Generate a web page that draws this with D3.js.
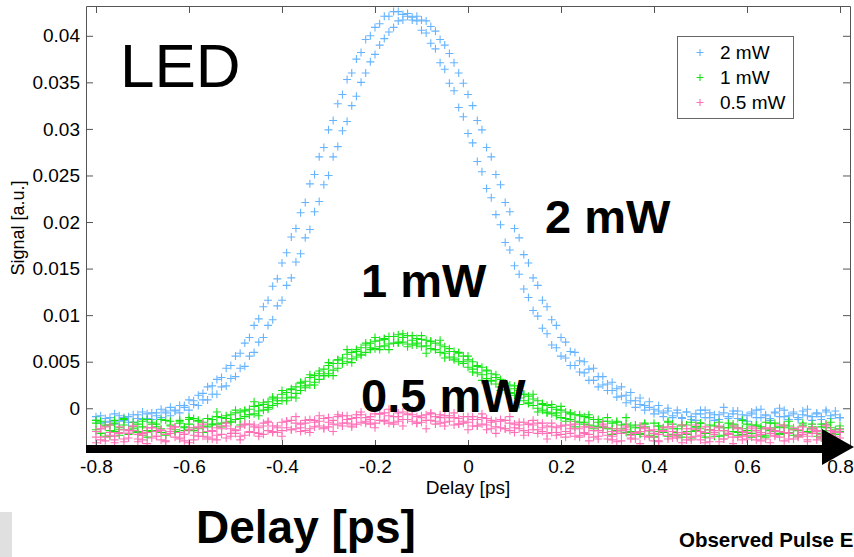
<!DOCTYPE html>
<html><head><meta charset="utf-8">
<script src="https://cdn.jsdelivr.net/npm/d3@7"></script>
<style>
body{margin:0;background:#fff;overflow:hidden;}
svg{display:block;}
</style>
</head><body>
<svg id="chart" width="854" height="557"></svg>
<script>
// ---------- data ----------
const delay = [
-0.8,-0.79,-0.78,-0.77,-0.76,-0.75,-0.74,-0.73,-0.72,-0.71,
-0.7,-0.69,-0.68,-0.67,-0.66,-0.65,-0.64,-0.63,-0.62,-0.61,
-0.6,-0.59,-0.58,-0.57,-0.56,-0.55,-0.54,-0.53,-0.52,-0.51,
-0.5,-0.49,-0.48,-0.47,-0.46,-0.45,-0.44,-0.43,-0.42,-0.41,
-0.4,-0.39,-0.38,-0.37,-0.36,-0.35,-0.34,-0.33,-0.32,-0.31,
-0.3,-0.29,-0.28,-0.27,-0.26,-0.25,-0.24,-0.23,-0.22,-0.21,
-0.2,-0.19,-0.18,-0.17,-0.16,-0.15,-0.14,-0.13,-0.12,-0.11,
-0.1,-0.09,-0.08,-0.07,-0.06,-0.05,-0.04,-0.03,-0.02,-0.01,
0,0.01,0.02,0.03,0.04,0.05,0.06,0.07,0.08,0.09,
0.1,0.11,0.12,0.13,0.14,0.15,0.16,0.17,0.18,0.19,
0.2,0.21,0.22,0.23,0.24,0.25,0.26,0.27,0.28,0.29,
0.3,0.31,0.32,0.33,0.34,0.35,0.36,0.37,0.38,0.39,
0.4,0.41,0.42,0.43,0.44,0.45,0.46,0.47,0.48,0.49,
0.5,0.51,0.52,0.53,0.54,0.55,0.56,0.57,0.58,0.59,
0.6,0.61,0.62,0.63,0.64,0.65,0.66,0.67,0.68,0.69,
0.7,0.71,0.72,0.73,0.74,0.75,0.76,0.77,0.78,0.79,
0.8];

const signal2mW_sweep1 = [
-.0009,-.0016,-.0011,-.0014,-.0006,-.0014,-.0010,-.0015,-.0007,-.0011,
-.0004,-.0011,-.0005,-.0008,-.0001,-.0005,.0001,-.0003,.0003,.0003,
.0009,.0008,.0014,.0016,.0023,.0024,.0031,.0033,.0043,.0046,
.0056,.0059,.0070,.0076,.0089,.0096,.0109,.0116,.0131,.0139,
.0156,.0167,.0184,.0193,.0210,.0221,.0241,.0251,.0270,.0280,
.0299,.0309,.0327,.0337,.0353,.0360,.0375,.0382,.0396,.0400,
.0409,.0413,.0421,.0421,.0426,.0426,.0423,.0424,.0417,.0416,
.0406,.0403,.0392,.0386,.0371,.0364,.0349,.0341,.0323,.0313,
.0295,.0285,.0265,.0254,.0236,.0226,.0208,.0197,.0178,.0170,
.0153,.0144,.0128,.0119,.0105,.0099,.0086,.0080,.0068,.0065,
.0056,.0054,.0046,.0046,.0039,.0038,.0030,.0030,.0023,.0025,
.0019,.0019,.0012,.0013,.0006,.0008,.0001,.0004,-.0002,.0001,
-.0006,-.0003,-.0009,-.0003,-.0010,-.0005,-.0011,-.0004,-.0009,-.0013,
-.0006,-.0002,-.0010,-.0007,-.0012,-.0005,-.0009,-.0003,-.0011,-.0007,
-.0014,-.0006,-.0002,-.0010,-.0008,-.0013,-.0004,.0000,-.0009,-.0012,
-.0006,-.0010,-.0003,-.0008,-.0013,-.0005,-.0009,-.0002,-.0011,-.0007,
-.0010];

const signal2mW_sweep2 = [
-.0013,-.0008,-.0015,-.0010,-.0017,-.0008,-.0013,-.0009,-.0015,-.0007,
-.0012,-.0006,-.0012,-.0005,-.0010,-.0003,-.0008,-.0002,-.0005,.0001,
-.0002,.0004,.0003,.0009,.0009,.0015,.0015,.0023,.0024,.0032,
.0034,.0043,.0045,.0056,.0060,.0071,.0076,.0089,.0095,.0110,
.0116,.0132,.0140,.0157,.0166,.0183,.0192,.0211,.0222,.0240,
.0250,.0270,.0281,.0298,.0308,.0325,.0335,.0350,.0360,.0372,
.0380,.0390,.0397,.0404,.0409,.0416,.0417,.0421,.0420,.0421,
.0417,.0416,.0410,.0405,.0396,.0390,.0381,.0371,.0360,.0349,
.0337,.0325,.0309,.0299,.0280,.0270,.0251,.0240,.0221,.0211,
.0193,.0183,.0165,.0156,.0140,.0132,.0116,.0109,.0095,.0089,
.0076,.0071,.0061,.0060,.0051,.0050,.0042,.0043,.0034,.0034,
.0026,.0028,.0021,.0023,.0014,.0017,.0008,.0011,.0003,.0007,
-.0001,.0003,-.0005,.0000,-.0008,-.0002,-.0010,-.0004,-.0012,-.0006,
-.0002,-.0010,-.0005,-.0013,-.0007,.0001,-.0011,-.0006,-.0003,-.0012,
-.0008,-.0004,-.0010,-.0001,-.0007,-.0011,-.0005,-.0009,-.0002,-.0008,
-.0004,-.0012,-.0007,-.0001,-.0009,-.0006,-.0012,-.0004,-.0008,-.0003,
-.0010];

const signal1mW_sweep1 = [
-.0016,-.0027,-.0019,-.0024,-.0013,-.0029,-.0018,-.0023,-.0015,-.0026,
-.0020,-.0012,-.0025,-.0017,-.0022,-.0028,-.0014,-.0023,-.0016,-.0024,
-.0012,-.0021,-.0013,-.0019,-.0011,-.0018,-.0009,-.0016,-.0008,-.0014,
-.0005,-.0011,-.0003,-.0007,.0002,-.0003,.0006,.0001,.0010,.0005,
.0015,.0011,.0021,.0016,.0027,.0022,.0033,.0028,.0040,.0035,
.0046,.0041,.0052,.0048,.0058,.0053,.0063,.0058,.0068,.0063,
.0072,.0066,.0075,.0069,.0077,.0070,.0076,.0069,.0078,.0070,
.0074,.0067,.0072,.0063,.0068,.0059,.0064,.0054,.0059,.0048,
.0052,.0042,.0046,.0036,.0040,.0029,.0033,.0023,.0027,.0017,
.0021,.0011,.0015,.0005,.0010,.0000,.0005,-.0004,.0001,-.0008,
-.0002,-.0011,-.0005,-.0014,-.0008,-.0017,-.0010,-.0019,-.0012,-.0020,
-.0014,-.0022,-.0015,-.0024,-.0017,-.0025,-.0018,-.0027,-.0020,-.0029,
-.0016,-.0025,-.0021,-.0030,-.0017,-.0026,-.0019,-.0028,-.0015,-.0024,
-.0022,-.0031,-.0018,-.0026,-.0020,-.0029,-.0016,-.0025,-.0021,-.0028,
-.0017,-.0027,-.0019,-.0030,-.0015,-.0024,-.0021,-.0028,-.0018,-.0026,
-.0022,-.0029,-.0016,-.0025,-.0020,-.0027,-.0017,-.0024,-.0021,-.0028,
-.0019];

const signal1mW_sweep2 = [
-.0023,-.0014,-.0030,-.0018,-.0025,-.0021,-.0012,-.0027,-.0022,-.0017,
-.0029,-.0024,-.0015,-.0020,-.0026,-.0013,-.0019,-.0025,-.0014,-.0021,
-.0017,-.0011,-.0022,-.0015,-.0020,-.0012,-.0017,-.0010,-.0015,-.0007,
-.0012,-.0004,-.0009,-.0001,-.0006,.0003,-.0002,.0007,.0003,.0011,
.0008,.0017,.0012,.0023,.0019,.0029,.0025,.0035,.0031,.0042,
.0037,.0048,.0043,.0054,.0050,.0060,.0055,.0065,.0060,.0070,
.0064,.0073,.0067,.0077,.0070,.0079,.0071,.0078,.0068,.0075,
.0066,.0073,.0064,.0070,.0060,.0066,.0055,.0061,.0050,.0056,
.0044,.0050,.0038,.0044,.0032,.0037,.0026,.0031,.0020,.0025,
.0014,.0019,.0008,.0013,.0003,.0008,-.0002,.0003,-.0006,-.0001,
-.0010,-.0004,-.0012,-.0007,-.0015,-.0009,-.0018,-.0012,-.0020,-.0014,
-.0022,-.0016,-.0024,-.0018,-.0026,-.0019,-.0027,-.0021,-.0016,-.0024,
-.0030,-.0019,-.0023,-.0015,-.0028,-.0022,-.0031,-.0018,-.0025,-.0020,
-.0016,-.0027,-.0023,-.0019,-.0030,-.0024,-.0021,-.0017,-.0029,-.0022,
-.0026,-.0018,-.0024,-.0020,-.0031,-.0023,-.0016,-.0027,-.0021,-.0019,
-.0029,-.0024,-.0018,-.0026,-.0022,-.0030,-.0020,-.0017,-.0027,-.0023,
-.0025];

const signal1mW_sweep3 = [
-.0013,-.0027,-.0018,-.0030,-.0016,-.0023,-.0011,-.0028,-.0020,-.0025,
-.0014,-.0031,-.0017,-.0024,-.0012,-.0029,-.0018,-.0025,-.0013,-.0020,
-.0010,-.0024,-.0014,-.0026,-.0011,-.0017,-.0004,-.0020,-.0011,-.0015,
-.0002,-.0018,-.0002,-.0007,.0007,-.0008,.0004,-.0001,.0012,.0008,
.0019,.0008,.0020,.0011,.0028,.0024,.0036,.0025,.0037,.0035,
.0049,.0035,.0052,.0048,.0063,.0049,.0061,.0057,.0070,.0065,
.0076,.0063,.0074,.0063,.0077,.0071,.0080,.0066,.0073,.0068,
.0078,.0059,.0072,.0063,.0073,.0054,.0061,.0052,.0060,.0050,
.0056,.0039,.0045,.0030,.0041,.0030,.0036,.0019,.0024,.0016,
.0024,.0004,.0015,.0006,.0015,-.0004,.0004,-.0005,.0004,-.0005,
.0002,-.0014,-.0006,-.0020,-.0007,-.0015,-.0007,-.0022,-.0015,-.0021,
-.0010,-.0028,-.0014,-.0022,-.0010,-.0028,-.0021,-.0028,-.0017,-.0024,
-.0031,-.0019,-.0026,-.0014,-.0022,-.0029,-.0018,-.0025,-.0032,-.0020,
-.0016,-.0027,-.0023,-.0030,-.0015,-.0021,-.0028,-.0019,-.0026,-.0013,
-.0024,-.0031,-.0018,-.0022,-.0029,-.0016,-.0025,-.0020,-.0027,-.0014,
-.0023,-.0030,-.0019,-.0026,-.0017,-.0024,-.0032,-.0021,-.0015,-.0028,
-.0022];

const signal05mW_sweep1 = [
-.0031,-.0022,-.0035,-.0026,-.0030,-.0020,-.0033,-.0027,-.0024,-.0036,
-.0029,-.0021,-.0032,-.0025,-.0034,-.0028,-.0022,-.0031,-.0026,-.0035,
-.0023,-.0029,-.0020,-.0030,-.0025,-.0033,-.0021,-.0028,-.0019,-.0027,
-.0023,-.0030,-.0018,-.0025,-.0020,-.0027,-.0016,-.0024,-.0019,-.0026,
-.0015,-.0021,-.0013,-.0022,-.0017,-.0024,-.0012,-.0020,-.0014,-.0022,
-.0010,-.0017,-.0009,-.0019,-.0012,-.0018,-.0007,-.0015,-.0010,-.0017,
-.0006,-.0013,-.0005,-.0016,-.0009,-.0014,-.0004,-.0012,-.0007,-.0016,
-.0008,-.0013,-.0006,-.0017,-.0010,-.0015,-.0008,-.0018,-.0011,-.0016,
-.0009,-.0019,-.0012,-.0017,-.0011,-.0022,-.0014,-.0021,-.0013,-.0024,
-.0017,-.0022,-.0015,-.0026,-.0018,-.0023,-.0016,-.0027,-.0020,-.0029,
-.0019,-.0025,-.0018,-.0030,-.0022,-.0027,-.0020,-.0031,-.0024,-.0019,
-.0029,-.0034,-.0022,-.0027,-.0021,-.0032,-.0026,-.0019,-.0030,-.0024,
-.0035,-.0028,-.0021,-.0033,-.0025,-.0030,-.0018,-.0027,-.0034,-.0023,
-.0029,-.0020,-.0032,-.0026,-.0036,-.0024,-.0028,-.0019,-.0031,-.0025,
-.0033,-.0022,-.0029,-.0035,-.0021,-.0027,-.0030,-.0018,-.0026,-.0033,
-.0023,-.0029,-.0020,-.0034,-.0027,-.0024,-.0031,-.0019,-.0028,-.0025,
-.0032];

const signal05mW_sweep2 = [
-.0025,-.0034,-.0020,-.0029,-.0037,-.0027,-.0023,-.0032,-.0019,-.0028,
-.0034,-.0026,-.0021,-.0030,-.0024,-.0036,-.0027,-.0020,-.0033,-.0028,
-.0023,-.0034,-.0026,-.0021,-.0031,-.0024,-.0029,-.0019,-.0032,-.0022,
-.0027,-.0020,-.0029,-.0017,-.0026,-.0021,-.0028,-.0015,-.0025,-.0019,
-.0024,-.0014,-.0023,-.0016,-.0021,-.0013,-.0022,-.0015,-.0019,-.0011,
-.0020,-.0013,-.0018,-.0008,-.0016,-.0011,-.0017,-.0007,-.0014,-.0009,
-.0016,-.0006,-.0013,-.0008,-.0015,-.0005,-.0012,-.0006,-.0014,-.0009,
-.0015,-.0007,-.0013,-.0009,-.0016,-.0008,-.0014,-.0010,-.0017,-.0009,
-.0015,-.0012,-.0019,-.0010,-.0018,-.0013,-.0020,-.0014,-.0022,-.0016,
-.0021,-.0015,-.0024,-.0017,-.0023,-.0016,-.0025,-.0019,-.0026,-.0021,
-.0028,-.0018,-.0027,-.0022,-.0031,-.0020,-.0028,-.0024,-.0033,-.0026,
-.0021,-.0030,-.0027,-.0035,-.0023,-.0029,-.0033,-.0025,-.0022,-.0031,
-.0027,-.0036,-.0024,-.0029,-.0020,-.0032,-.0026,-.0034,-.0022,-.0030,
-.0025,-.0037,-.0023,-.0028,-.0021,-.0033,-.0027,-.0031,-.0022,-.0034,
-.0026,-.0030,-.0024,-.0028,-.0033,-.0022,-.0029,-.0025,-.0035,-.0027,
-.0021,-.0031,-.0026,-.0030,-.0023,-.0034,-.0028,-.0032,-.0024,-.0030,
-.0026];

const signal05mW_sweep3 = [
-.0037,-.0022,-.0031,-.0018,-.0034,-.0026,-.0036,-.0024,-.0019,-.0033,
-.0027,-.0038,-.0021,-.0030,-.0023,-.0035,-.0025,-.0020,-.0032,-.0028,
-.0037,-.0021,-.0030,-.0017,-.0033,-.0025,-.0034,-.0022,-.0016,-.0030,
-.0024,-.0034,-.0017,-.0026,-.0018,-.0030,-.0019,-.0014,-.0026,-.0021,
-.0030,-.0014,-.0023,-.0009,-.0025,-.0016,-.0026,-.0013,-.0008,-.0021,
-.0015,-.0025,-.0007,-.0016,-.0008,-.0020,-.0010,-.0004,-.0016,-.0012,
-.0021,-.0006,-.0014,-.0001,-.0017,-.0009,-.0019,-.0007,-.0002,-.0016,
-.0010,-.0022,-.0005,-.0014,-.0007,-.0019,-.0010,-.0005,-.0017,-.0014,
-.0023,-.0009,-.0019,-.0006,-.0023,-.0015,-.0027,-.0012,-.0022,-.0009,
-.0026,-.0018,-.0029,-.0017,-.0013,-.0027,-.0021,-.0033,-.0016,-.0026,
-.0019,-.0031,-.0022,-.0017,-.0029,-.0026,-.0035,-.0021,-.0030,-.0017,
-.0033,-.0025,-.0036,-.0024,-.0019,-.0033,-.0027,-.0038,-.0021,-.0030,
-.0023,-.0035,-.0025,-.0020,-.0032,-.0028,-.0037,-.0022,-.0031,-.0018,
-.0034,-.0026,-.0036,-.0024,-.0019,-.0033,-.0027,-.0038,-.0021,-.0030,
-.0029,-.0020,-.0034,-.0026,-.0022,-.0037,-.0024,-.0031,-.0019,-.0027,
-.0033,-.0023,-.0028,-.0036,-.0021,-.0025,-.0032,-.0018,-.0030,-.0026,
-.0023];

const seriesNames = ["2 mW", "1 mW", "0.5 mW"];
const xTickValues = [-0.8, -0.6, -0.4, -0.2, 0, 0.2, 0.4, 0.6, 0.8];
const xTickLabels = ["-0.8", "-0.6", "-0.4", "-0.2", "0", "0.2", "0.4", "0.6", "0.8"];
const yTickValues = [0, 0.005, 0.01, 0.015, 0.02, 0.025, 0.03, 0.035, 0.04];
const yTickLabels = ["0", "0.005", "0.01", "0.015", "0.02", "0.025", "0.03", "0.035", "0.04"];
const xAxisTitle = "Delay [ps]";
const yAxisTitle = "Signal [a.u.]";

// ---------- styles ----------
const seriesColors = ["#66b4ff", "#14e614", "#ff6eb6"];
const FONT = '"Liberation Sans", Arial, Helvetica, sans-serif';
const AXIS_COLOR = "#555";

const series = [
  { name: seriesNames[0], color: seriesColors[0], sweeps: [signal2mW_sweep1, signal2mW_sweep2] },
  { name: seriesNames[1], color: seriesColors[1], sweeps: [signal1mW_sweep1, signal1mW_sweep2, signal1mW_sweep3] },
  { name: seriesNames[2], color: seriesColors[2], sweeps: [signal05mW_sweep1, signal05mW_sweep2, signal05mW_sweep3] }
];

const svg = d3.select("#chart").style("font-family", FONT);

const x = d3.scaleLinear().domain([-0.8215, 0.8215]).range([86, 850]);
const y = d3.scaleLinear().domain([-0.00416, 0.0432]).range([447, 6]);

// ---------- data markers ----------
const plus = r => `M${-r},0H${r}M0,${-r}V${r}`;
const markLayer = svg.append("g");
series.forEach(s => {
  const pts = [];
  s.sweeps.forEach(arr => arr.forEach((v, i) => pts.push({ d: delay[i], v })));
  markLayer.append("g")
    .selectAll("path").data(pts).join("path")
    .attr("transform", p => `translate(${x(p.d)},${y(p.v)})`)
    .attr("d", plus(4))
    .attr("fill", "none")
    .attr("stroke", s.color)
    .attr("stroke-width", 1.1);
});

// ---------- axes (box with inward ticks) ----------
function styleAxis(g) {
  g.attr("font-family", null).attr("font-size", null);
  g.select(".domain").attr("stroke", AXIS_COLOR);
  g.selectAll(".tick line").attr("stroke", AXIS_COLOR);
  g.selectAll(".tick text").attr("fill", "#000").style("font-size", "19px").style("font-family", FONT);
}
svg.append("g").attr("transform", "translate(0,447)")
  .call(d3.axisBottom(x).tickValues(xTickValues).tickFormat((d, i) => xTickLabels[i])
    .tickSizeInner(-7).tickSizeOuter(0).tickPadding(12.5)).call(styleAxis);
svg.append("g").attr("transform", "translate(0,6)")
  .call(d3.axisTop(x).tickValues(xTickValues).tickFormat("")
    .tickSizeInner(-7).tickSizeOuter(0)).call(styleAxis);
svg.append("g").attr("transform", "translate(86,0)")
  .call(d3.axisLeft(y).tickValues(yTickValues).tickFormat((d, i) => yTickLabels[i])
    .tickSizeInner(-7).tickSizeOuter(0).tickPadding(6)).call(styleAxis);
svg.append("g").attr("transform", "translate(850,0)")
  .call(d3.axisRight(y).tickValues(yTickValues).tickFormat("")
    .tickSizeInner(-7).tickSizeOuter(0)).call(styleAxis);

// axis titles
svg.append("text").attr("x", 468).attr("y", 494).attr("text-anchor", "middle")
  .style("font-size", "19px").text(xAxisTitle);
svg.append("text").attr("transform", "translate(24,228) rotate(-90)").attr("text-anchor", "middle")
  .style("font-size", "18px").text(yAxisTitle);

// ---------- legend ----------
const legend = svg.append("g");
legend.append("rect").attr("x", 677.5).attr("y", 36.5).attr("width", 116).attr("height", 82)
  .attr("fill", "#fff").attr("stroke", "#666");
series.forEach((s, i) => {
  const cy = 52.5 + i * 25;
  legend.append("path").attr("transform", `translate(700,${cy})`).attr("d", plus(3.5))
    .attr("stroke", s.color).attr("stroke-width", 1.1).attr("fill", "none");
  legend.append("text").attr("x", 720).attr("y", cy + 6.5).style("font-size", "19px").text(s.name);
});

// ---------- annotations ----------
svg.append("text").attr("x", 120).attr("y", 87).style("font-size", "62px").text("LED");
svg.append("text").attr("x", 545).attr("y", 233).style("font-size", "47px").style("font-weight", "bold").text(seriesNames[0]);
svg.append("text").attr("x", 361).attr("y", 297).style("font-size", "47px").style("font-weight", "bold").text(seriesNames[1]);
svg.append("text").attr("x", 361).attr("y", 412).style("font-size", "47px").style("font-weight", "bold").text(seriesNames[2]);

// delay arrow over the bottom axis
svg.append("rect").attr("x", 86).attr("y", 445).attr("width", 740).attr("height", 8).attr("fill", "#000");
svg.append("path").attr("d", "M822,429L854,447L822,465Z").attr("fill", "#000");

// slide fragments below the chart
svg.append("text").attr("x", 196).attr("y", 543).style("font-size", "46px").style("font-weight", "bold").text(xAxisTitle);
svg.append("text").attr("x", 679).attr("y", 547).style("font-size", "20.5px").style("font-weight", "bold").text("Observed Pulse E");
svg.append("rect").attr("x", 0).attr("y", 512).attr("width", 12).attr("height", 45).attr("fill", "#e0e0e0");
</script>
</body></html>
